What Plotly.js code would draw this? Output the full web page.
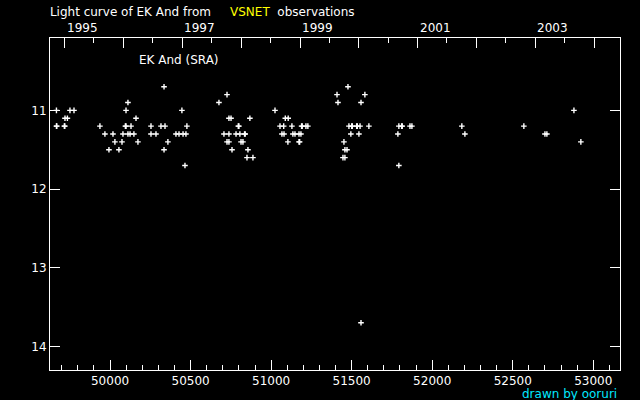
<!DOCTYPE html>
<html>
<head>
<meta charset="utf-8">
<script src="https://cdn.plot.ly/plotly-3.0.1.min.js"></script>
<style>html,body{margin:0;padding:0;background:#000;}#chart{width:640px;height:400px;}</style>
</head>
<body>
<div id="chart"></div>
<script>
// Observations (JD - 2400000) and visual magnitudes
const jd = [49667,49667,49669,49716,49719,49720,49735,49751,49776,49937,49968,49993,50018,50030,50055,50074,50080,50095,50099,50099,50111,50111,50124,50130,50148,50161,50173,50254,50254,50285,50316,50335,50335,50341,50359,50409,50428,50446,50453,50465,50471,50477,
 50676,50707,50726,50726,50738,50738,50738,50751,50757,50782,50796,50800,50806,50813,50825,50835,50839,50850,50856,50868,50887,51024,51055,51067,51078,51080,51088,51104,51106,51129,51135,51148,51173,51173,51177,51185,51189,51193,51216,51228,
 51409,51415,51446,51452,51458,51458,51471,51477,51483,51495,51500,51504,51531,51535,51545,51552,51558,51558,51582,51607,51787,51793,51793,51810,51814,51862,51874,52184,52203,
 52569,52700,52712,52880,52923];
const mag = [11.0,11.2,11.2,11.2,11.2,11.1,11.1,11.0,11.0,11.2,11.3,11.5,11.3,11.4,11.5,11.4,11.3,11.2,11.2,11.0,10.9,11.3,11.3,11.2,11.3,11.1,11.4,11.2,11.3,11.3,11.2,10.7,11.5,11.2,11.4,11.3,11.3,11.0,11.3,11.7,11.3,11.2,
 10.9,11.3,10.8,11.4,11.1,11.3,11.4,11.1,11.5,11.3,11.2,11.2,11.3,11.4,11.4,11.3,11.3,11.6,11.5,11.1,11.6,11.0,11.2,11.3,11.2,11.3,11.1,11.4,11.1,11.2,11.3,11.3,11.3,11.4,11.4,11.3,11.2,11.2,11.2,11.2,
 10.8,10.9,11.6,11.4,11.5,11.6,11.5,10.7,11.2,11.3,11.2,11.2,11.2,11.2,11.3,11.2,10.9,13.7,10.8,11.2,11.3,11.2,11.7,11.2,11.2,11.2,11.2,11.2,11.3,
 11.2,11.3,11.3,11.0,11.4];

// Bottom axis ticks (JD)
const jdMajor = [50000,50500,51000,51500,52000,52500,53000];
const jdMajorText = ['50000','50500','51000','51500','52000','52500','53000'];
const jdMinor = [];
for (let v = 49700; v <= 53100; v += 100) if (v % 500 !== 0) jdMinor.push(v);

// Top axis: years (JD of Jan 1 and Jul 1)
const yearStart = [49718.5,50083.5,50449.5,50814.5,51179.5,51544.5,51910.5,52275.5,52640.5,53005.5];
const yearHalf = [49899.5,50265.5,50630.5,50995.5,51360.5,51726.5,52091.5,52456.5,52821.5];
const yearLabels = ['1995','1997','1999','2001','2003'];
const yearLabelJD = [49718.5,50449.5,51179.5,51910.5,52640.5];

// Magnitude axis
const magTicks = [11,12,13,14];
const magTickText = ['11','12','13','14'];

const font = {family: 'DejaVu Sans', size: 12, color: '#ffffff'};
const xr = [49627, 53166];
const yr = [14.30, 10.08];

const annotations = yearLabels.map((t, i) => ({
  text: t, xref: 'x', yref: 'paper', x: yearLabelJD[i], y: 1, yshift: 10,
  xanchor: 'left', yanchor: 'middle', showarrow: false, font: font
}));
annotations.push({text: 'EK And (SRA)', xref: 'paper', yref: 'paper', x: 0.152, y: 0.934,
  xanchor: 'left', yanchor: 'middle', showarrow: false, font: font});
annotations.push({text: 'drawn by ooruri', xref: 'paper', yref: 'paper', x: 0.999, y: -0.072,
  xanchor: 'right', yanchor: 'middle', showarrow: false, font: {family: 'DejaVu Sans', size: 12, color: '#00e8ff'}});

const data = [{
  x: jd, y: mag, type: 'scatter', mode: 'markers', xaxis: 'x', yaxis: 'y',
  marker: {symbol: 'cross-thin', size: 4, color: '#ffffff', line: {color: '#ffffff', width: 1.4}},
  hoverinfo: 'x+y', showlegend: false
}, {
  // helper trace (no visible marks) that puts the year axis on the top edge
  x: yearStart, y: yearStart.map(() => 12.5), type: 'scatter', mode: 'markers', xaxis: 'x2', yaxis: 'y',
  marker: {size: 1, opacity: 0}, showlegend: false, hoverinfo: 'skip'
}];

const layout = {
  width: 640, height: 400,
  paper_bgcolor: '#000000', plot_bgcolor: '#000000',
  margin: {l: 50, r: 20, t: 38, b: 30, pad: 0},
  font: font,
  showlegend: false,
  title: {
    text: 'Light curve of EK And from&nbsp;&nbsp;&nbsp;&nbsp;&nbsp;<span style="color:#ffff00">VSNET</span>&nbsp;&nbsp;observations',
    x: 0.078, xanchor: 'left', y: 0.97, yanchor: 'middle', xref: 'container', yref: 'container',
    font: font
  },
  xaxis: {
    range: xr, showgrid: false, zeroline: false,
    showline: true, linecolor: '#ffffff', linewidth: 1, mirror: true,
    tickmode: 'array', tickvals: jdMajor, ticktext: jdMajorText,
    ticks: 'inside', ticklen: 10, tickwidth: 1, tickcolor: '#ffffff',
    tickfont: font,
    minor: {tickmode: 'array', tickvals: jdMinor, ticks: 'inside', ticklen: 5, tickwidth: 1, tickcolor: '#ffffff', showgrid: false}
  },
  xaxis2: {
    range: xr, overlaying: 'x', side: 'top', anchor: 'y', layer: 'above traces',
    showgrid: false, zeroline: false, showline: true, linecolor: '#ffffff', linewidth: 1,
    tickmode: 'array', tickvals: yearStart, showticklabels: false,
    ticks: 'inside', ticklen: 10, tickwidth: 1, tickcolor: '#ffffff',
    minor: {tickmode: 'array', tickvals: yearHalf, ticks: 'inside', ticklen: 5, tickwidth: 1, tickcolor: '#ffffff', showgrid: false}
  },
  yaxis: {
    range: yr, showgrid: false, zeroline: false,
    showline: true, linecolor: '#ffffff', linewidth: 1, mirror: 'ticks',
    tickmode: 'array', tickvals: magTicks, ticktext: magTickText,
    ticks: 'inside', ticklen: 10, tickwidth: 1, tickcolor: '#ffffff',
    tickfont: font
  },
  annotations: annotations
};

Plotly.newPlot('chart', data, layout, {displayModeBar: false, staticPlot: true});
</script>
</body>
</html>
